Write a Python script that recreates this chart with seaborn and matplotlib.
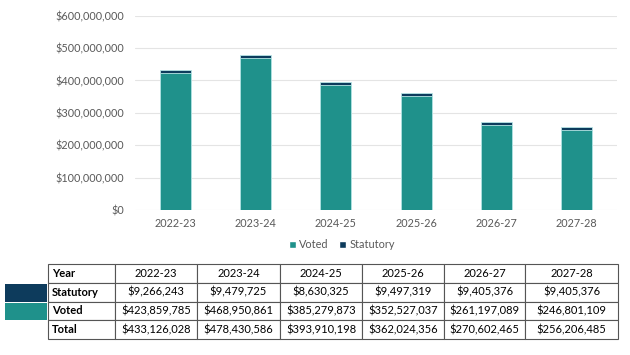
import matplotlib
matplotlib.use("Agg")
import matplotlib.pyplot as plt
import seaborn as sns
import pandas as pd
from matplotlib.patches import Rectangle, Patch
from matplotlib.ticker import FuncFormatter

years = ["2022-23", "2023-24", "2024-25", "2025-26", "2026-27", "2027-28"]
statutory = [9266243, 9479725, 8630325, 9497319, 9405376, 9405376]
voted = [423859785, 468950861, 385279873, 352527037, 261197089, 246801109]
total = [433126028, 478430586, 393910198, 362024356, 270602465, 256206485]
row_labels = ["Year", "Statutory", "Voted", "Total"]

TEAL = "#1f918b"
NAVY = "#0d3b5c"
EDGE = "#b8e6e6"
GRAY = "#595959"

sns.set_theme(style="white")
plt.rcParams["font.family"] = ["Lato", "DejaVu Sans"]

df = pd.DataFrame({"year": years, "voted": voted, "statutory": statutory, "total": total})

fig = plt.figure(figsize=(6.3, 3.55), dpi=100)
W, H = 630, 355

def fig_rect(x0, y0, x1, y1):
    return [x0 / W, 1 - y1 / H, (x1 - x0) / W, (y1 - y0) / H]

ax = fig.add_axes(fig_rect(135, 15.7, 617, 210))
sns.barplot(data=df, x="year", y="total", color=NAVY, saturation=1, width=0.39,
            edgecolor=EDGE, linewidth=0.6, ax=ax, zorder=3)
sns.barplot(data=df, x="year", y="voted", color=TEAL, saturation=1, width=0.39,
            edgecolor=EDGE, linewidth=0.6, ax=ax, zorder=4)
ax.set_ylim(0, 600_000_000)
ax.set_xlim(-0.5, 5.5)
ax.set_yticks(range(0, 600_000_001, 100_000_000))
ax.yaxis.set_major_formatter(FuncFormatter(lambda v, p: f"${v:,.0f}"))
ax.grid(axis="y", color="#e4e4e4", linewidth=0.8, zorder=0)
ax.set_axisbelow(True)
for s in ax.spines.values():
    s.set_visible(False)
ax.tick_params(axis="both", length=0, labelsize=7.8, labelcolor=GRAY)
ax.tick_params(axis="y", pad=8)
ax.tick_params(axis="x", pad=6)
ax.set_xlabel("")
ax.set_ylabel("")

handles = [Patch(facecolor=TEAL, label="Voted"), Patch(facecolor=NAVY, label="Statutory")]
fig.legend(handles=handles, loc="center", bbox_to_anchor=(342 / W, 1 - 245 / H), ncol=2,
           frameon=False, fontsize=7.8, labelcolor=GRAY, handlelength=0.6, handleheight=0.6,
           handletextpad=0.3, columnspacing=1.0)

# table
tax = fig.add_axes(fig_rect(48, 264, 618, 339))
tax.axis("off")
fmt = lambda v: f"${v:,.0f}"
cells = [["Year"] + years,
         ["Statutory"] + [fmt(v) for v in statutory],
         ["Voted"] + [fmt(v) for v in voted],
         ["Total"] + [fmt(v) for v in total]]
colw = [67, 82, 83, 82, 82, 81, 93]
colw = [c / sum(colw) for c in colw]
tbl = tax.table(cellText=cells, colWidths=colw, bbox=[0, 0, 1, 1], cellLoc="center")
tbl.auto_set_font_size(False)
for (r, c), cell in tbl.get_celld().items():
    cell.set_edgecolor("#555555")
    cell.set_linewidth(0.8)
    cell.set_text_props(fontsize=8.0, color="black")
    if c == 0:
        cell.set_text_props(fontweight="bold", ha="left")
        cell._loc = "left"
        cell.PAD = 0.06

# colour swatches beside table
fig.patches.append(Rectangle((5 / W, 1 - 302 / H), 42 / W, 18 / H, transform=fig.transFigure,
                             facecolor=NAVY, edgecolor="none"))
fig.patches.append(Rectangle((5 / W, 1 - 320 / H), 42 / W, 17.5 / H, transform=fig.transFigure,
                             facecolor=TEAL, edgecolor="none"))

fig.savefig("out.png", dpi=100)
